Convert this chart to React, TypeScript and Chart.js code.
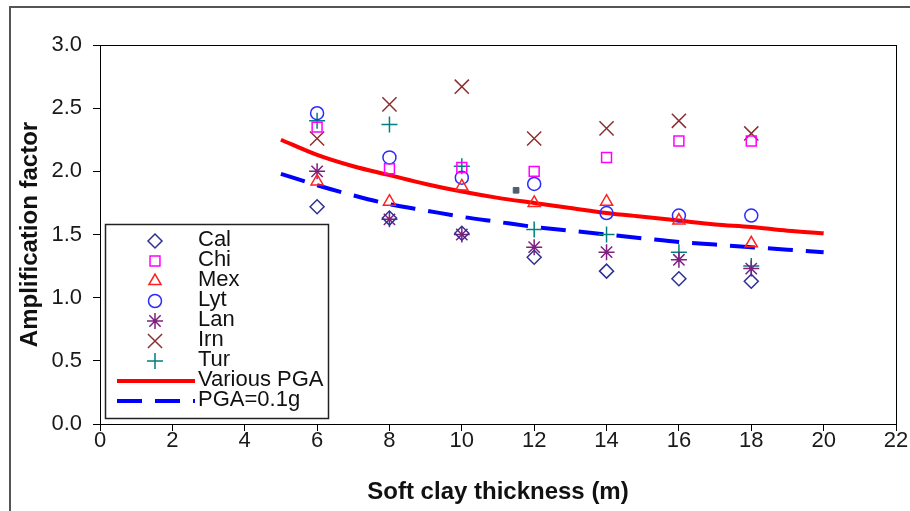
import React, { useEffect, useRef } from "react";
import { Chart, registerables } from "chart.js";
import { drawPoint } from "chart.js/helpers";

Chart.register(...registerables);

// ---- data ----
const thickness = [6, 8, 10, 12, 14, 16, 18];
const cal = [1.72, 1.63, 1.51, 1.32, 1.21, 1.15, 1.13];
const chi = [2.35, 2.02, 2.03, 2.0, 2.11, 2.24, 2.24];
const mex = [1.92, 1.76, 1.88, 1.75, 1.76, 1.61, 1.43];
const lyt = [2.46, 2.11, 1.95, 1.9, 1.67, 1.65, 1.65];
const lan = [2.0, 1.62, 1.5, 1.4, 1.36, 1.3, 1.23];
const irn = [2.26, 2.53, 2.67, 2.26, 2.34, 2.4, 2.3];
const tur = [2.4, 2.37, 2.04, 1.54, 1.5, 1.36, 1.25];

const curveX = [5, 6, 7, 8, 9, 10, 11, 12, 13, 14, 15, 16, 17, 18, 19, 20];
const variousPGA = [2.25, 2.13, 2.04, 1.97, 1.9, 1.84, 1.79, 1.75, 1.71, 1.67, 1.64, 1.61, 1.58, 1.56, 1.53, 1.51];
const pga01 = [1.98, 1.89, 1.81, 1.74, 1.69, 1.64, 1.6, 1.56, 1.53, 1.5, 1.47, 1.44, 1.42, 1.4, 1.38, 1.36];

const strayMarkX = [11.5];
const strayMarkY = [1.85];

const xTicks = [0, 2, 4, 6, 8, 10, 12, 14, 16, 18, 20, 22];
const yTicks = [0, 0.5, 1.0, 1.5, 2.0, 2.5, 3.0];

const FONT = "'Liberation Sans', Arial, sans-serif";

const pts = (xs: number[], ys: number[]) => xs.map((x, i) => ({ x, y: ys[i] }));

type Series = { label: string; data: number[]; style: string; color: string; radius: number };
const series: Series[] = [
  { label: "Cal", data: cal, style: "rectRot", color: "#2e3192", radius: 7 },
  { label: "Chi", data: chi, style: "rect", color: "#ff00ff", radius: 7 },
  { label: "Mex", data: mex, style: "triangle", color: "#ff2020", radius: 7 },
  { label: "Lyt", data: lyt, style: "circle", color: "#2b2bff", radius: 6.5 },
  { label: "Lan", data: lan, style: "star", color: "#7f1f7f", radius: 8 },
  { label: "Irn", data: irn, style: "crossRot", color: "#8b3030", radius: 10 },
  { label: "Tur", data: tur, style: "cross", color: "#008080", radius: 8 },
];

const framePlugin = {
  id: "frame",
  beforeDraw(chart: any) {
    const ctx = chart.ctx;
    ctx.save();
    ctx.fillStyle = "#ffffff";
    ctx.fillRect(0, 0, chart.width, chart.height);
    ctx.strokeStyle = "#555555";
    ctx.lineWidth = 2;
    ctx.beginPath();
    ctx.moveTo(10, chart.height);
    ctx.lineTo(10, 7);
    ctx.lineTo(chart.width, 7);
    ctx.stroke();
    ctx.restore();
  },
  afterDraw(chart: any) {
    const { ctx, chartArea } = chart;
    ctx.save();
    ctx.strokeStyle = "#000000";
    ctx.lineWidth = 1;
    ctx.strokeRect(chartArea.left + 0.5, chartArea.top + 0.5, chartArea.right - chartArea.left, chartArea.bottom - chartArea.top);

    // legend box
    const bx = 105, by = 224, bw = 223, bh = 194;
    ctx.fillStyle = "#ffffff";
    ctx.fillRect(bx, by, bw, bh);
    ctx.strokeStyle = "#222222";
    ctx.lineWidth = 1.5;
    ctx.strokeRect(bx + 0.5, by + 0.5, bw, bh);

    const symX = 155;
    const textX = 198;
    const rowY0 = 241;
    const step = 20;
    ctx.font = `22px ${FONT}`;
    ctx.textBaseline = "middle";
    ctx.textAlign = "left";
    chart.data.datasets.forEach((ds: any) => {
      if (ds.legendRow === undefined) return;
      const y = rowY0 + ds.legendRow * step;
      if (ds.type === "line") {
        ctx.save();
        ctx.strokeStyle = ds.borderColor;
        ctx.lineWidth = ds.borderWidth;
        ctx.setLineDash(ds.borderDash || []);
        ctx.beginPath();
        ctx.moveTo(117, y);
        ctx.lineTo(195, y);
        ctx.stroke();
        ctx.restore();
      } else {
        ctx.save();
        ctx.strokeStyle = ds.borderColor;
        ctx.fillStyle = "rgba(0,0,0,0)";
        ctx.lineWidth = ds.borderWidth;
        drawPoint(ctx, { pointStyle: ds.pointStyle, radius: ds.pointRadius, borderWidth: ds.borderWidth, rotation: 0 } as any, symX, y);
        ctx.restore();
      }
      ctx.fillStyle = "#111111";
      ctx.fillText(ds.label, textX, y - 1);
    });
    ctx.restore();
  },
};

export default function App() {
  const ref = useRef<HTMLCanvasElement | null>(null);
  useEffect(() => {
    if (!ref.current) return;
    const datasets: any[] = [];
    series.forEach((s, i) => {
      datasets.push({
        type: "scatter",
        label: s.label,
        data: pts(thickness, s.data),
        pointStyle: s.style,
        pointRadius: s.radius,
        pointHoverRadius: s.radius,
        borderColor: s.color,
        backgroundColor: "rgba(0,0,0,0)",
        borderWidth: 1.5,
        showLine: false,
        order: 0,
        legendRow: i,
      });
    });
    datasets.push({
      type: "line",
      label: "Various PGA",
      data: pts(curveX, variousPGA),
      borderColor: "#ff0000",
      borderWidth: 4,
      pointRadius: 0,
      cubicInterpolationMode: "monotone",
      fill: false,
      order: 1,
      legendRow: 7,
    });
    datasets.push({
      type: "line",
      label: "PGA=0.1g",
      data: pts(curveX, pga01),
      borderColor: "#0000ff",
      borderWidth: 4,
      borderDash: [25, 13],
      pointRadius: 0,
      cubicInterpolationMode: "monotone",
      fill: false,
      order: 1,
      legendRow: 8,
    });
    datasets.push({
      type: "scatter",
      label: "",
      data: pts(strayMarkX, strayMarkY),
      pointStyle: "rect",
      pointRadius: 4,
      borderColor: "#4f5f6f",
      backgroundColor: "#4f5f6f",
      borderWidth: 1,
      order: 0,
    });

    const tickFont = { family: FONT, size: 22 };
    const titleFont = { family: FONT, size: 24, weight: "bold" as const };

    const chart = new Chart(ref.current, {
      type: "scatter",
      data: { datasets },
      options: {
        animation: false,
        responsive: false,
        events: [],
        layout: { padding: { left: 0, top: 45, right: 14, bottom: 0 } },
        plugins: { legend: { display: false }, tooltip: { enabled: false } },
        scales: {
          x: {
            type: "linear",
            min: 0,
            max: 22,
            afterBuildTicks: (scale: any) => {
              scale.ticks = xTicks.map((v) => ({ value: v }));
            },
            afterFit: (scale: any) => {
              scale.height = 87;
            },
            ticks: { font: tickFont, color: "#1a1a1a", padding: -3, maxRotation: 0, autoSkip: false },
            grid: { drawOnChartArea: false, drawTicks: true, tickLength: 7, color: "#000000" },
            border: { display: true, color: "#000000", width: 1 },
            title: {
              display: true,
              text: "Soft clay thickness (m)",
              font: titleFont,
              color: "#111111",
              padding: { top: 0, bottom: 4 },
            },
          },
          y: {
            type: "linear",
            min: 0,
            max: 3,
            afterBuildTicks: (scale: any) => {
              scale.ticks = yTicks.map((v) => ({ value: v }));
            },
            afterFit: (scale: any) => {
              scale.width = 100;
            },
            ticks: {
              font: tickFont,
              color: "#1a1a1a",
              padding: 11,
              autoSkip: false,
              callback: (v: any) => Number(v).toFixed(1),
            },
            grid: { drawOnChartArea: false, drawTicks: true, tickLength: 7, color: "#000000" },
            border: { display: true, color: "#000000", width: 1 },
            title: {
              display: true,
              text: "Amplification factor",
              font: titleFont,
              color: "#111111",
              padding: { top: 16, bottom: 0 },
            },
          },
        },
      },
      plugins: [framePlugin],
    } as any);
    return () => chart.destroy();
  }, []);

  return (
    <div style={{ position: "fixed", left: 0, top: 0, width: 910, height: 511, background: "#fff" }}>
      <canvas ref={ref} width={910} height={511} style={{ display: "block" }} />
    </div>
  );
}
